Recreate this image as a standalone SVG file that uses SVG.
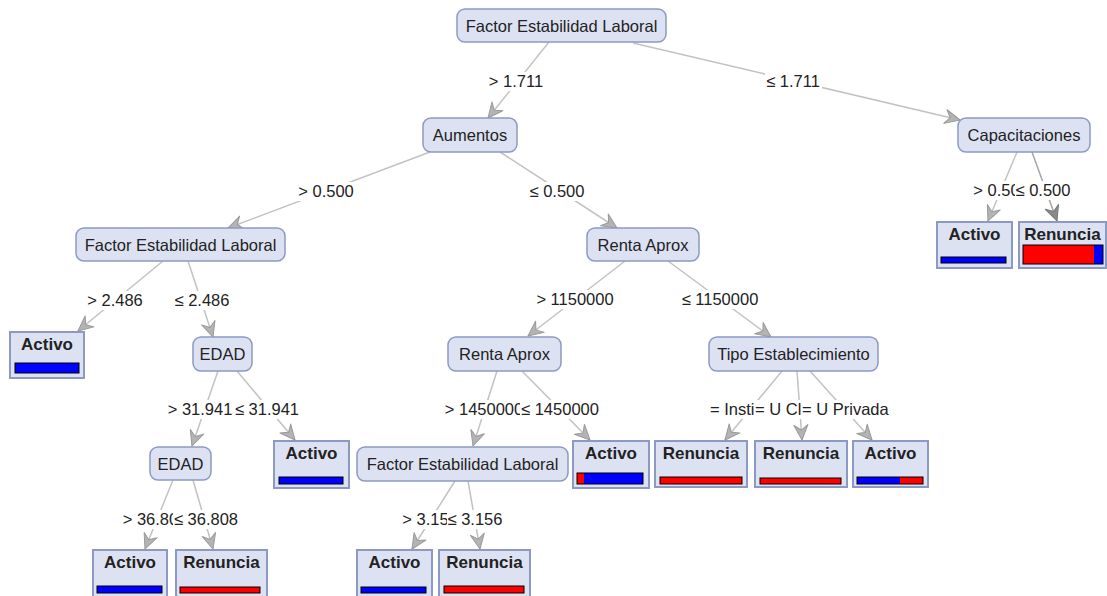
<svg xmlns="http://www.w3.org/2000/svg" width="1107" height="596" viewBox="0 0 1107 596">
  <style>
    text { font-family: "Liberation Sans", Arial, sans-serif; fill: #222; }
    .node rect.box { fill: #dde2f3; stroke: #8c99c2; stroke-width: 1.5; }
    .node text { font-size: 16.5px; text-anchor: middle; }
    .leaf rect.box { fill: #dde2f3; stroke: #8c99c2; stroke-width: 2; }
    .leaf text { font-size: 17px; font-weight: bold; text-anchor: middle; }
    .bar { stroke: #000; stroke-width: 1; }
    .blue { fill: #0000ff; }
    .red { fill: #ff0000; }
    .edge { stroke: #c2c2c2; stroke-width: 1.5; fill: none; marker-end: url(#arrow); }
    .edge.dark { stroke: #a6a6a6; marker-end: url(#arrowDark); }
    .lbl rect { fill: #fff; }
    .lbl text { font-size: 16.5px; text-anchor: middle; }
    .lbl text.s { text-anchor: start; }
  </style>
  <defs>
    <marker id="arrow" markerUnits="userSpaceOnUse" markerWidth="18" markerHeight="16" viewBox="0 0 18 16" refX="16" refY="8" orient="auto">
      <path d="M1,1 L16,8 L1,15 L6,8 Z" fill="#b4b4b4" stroke="#999" stroke-width="1" stroke-linejoin="round"/>
    </marker>
    <marker id="arrowDark" markerUnits="userSpaceOnUse" markerWidth="18" markerHeight="16" viewBox="0 0 18 16" refX="16" refY="8" orient="auto">
      <path d="M1,1 L16,8 L1,15 L6,8 Z" fill="#8a8a8a" stroke="#777" stroke-width="1" stroke-linejoin="round"/>
    </marker>
  </defs>

  <rect width="1107" height="596" fill="#fff"/>

  <!-- connectors -->
  <g id="edges">
    <line class="edge" x1="549" y1="42" x2="488" y2="118"/>
    <line class="edge" x1="633" y1="43" x2="960" y2="120"/>
    <line class="edge" x1="430" y1="152" x2="228" y2="228"/>
    <line class="edge" x1="500" y1="152" x2="617" y2="228"/>
    <line class="edge" x1="1017" y1="152" x2="988" y2="221"/>
    <line class="edge dark" x1="1032" y1="152" x2="1057" y2="221"/>
    <line class="edge" x1="163" y1="261" x2="78" y2="331"/>
    <line class="edge" x1="188" y1="261" x2="213" y2="337"/>
    <line class="edge" x1="218" y1="371" x2="192" y2="446"/>
    <line class="edge" x1="237" y1="371" x2="295" y2="440"/>
    <line class="edge" x1="173" y1="480" x2="145" y2="549"/>
    <line class="edge" x1="193" y1="480" x2="213" y2="549"/>
    <line class="edge" x1="625" y1="261" x2="528" y2="336"/>
    <line class="edge" x1="668" y1="261" x2="771" y2="337"/>
    <line class="edge" x1="497" y1="371" x2="473" y2="446"/>
    <line class="edge" x1="522" y1="371" x2="590" y2="440"/>
    <line class="edge" x1="455" y1="481" x2="412" y2="549"/>
    <line class="edge" x1="468" y1="481" x2="480" y2="549"/>
    <line class="edge" x1="782" y1="371" x2="725" y2="440"/>
    <line class="edge" x1="797" y1="371" x2="802" y2="440"/>
    <line class="edge" x1="810" y1="371" x2="872" y2="440"/>
  </g>

  <!-- edge labels (white backing, later ones overlap earlier ones) -->
  <g id="edge-labels" class="lbl">
    <rect x="488" y="72" width="57" height="19"/><text x="516" y="87">&gt; 1.711</text>
    <rect x="765" y="72" width="57" height="19"/><text x="793" y="87">≤ 1.711</text>
    <rect x="298" y="182" width="57" height="19"/><text x="326" y="197">&gt; 0.500</text>
    <rect x="529" y="182" width="57" height="19"/><text x="557" y="197">≤ 0.500</text>
    <rect x="973" y="181" width="57" height="19"/><text x="1001" y="196">&gt; 0.500</text>
    <rect x="1015" y="181" width="57" height="19"/><text x="1043" y="196">≤ 0.500</text>
    <rect x="87" y="291" width="57" height="19"/><text x="115" y="306">&gt; 2.486</text>
    <rect x="174" y="291" width="57" height="19"/><text x="202" y="306">≤ 2.486</text>
    <rect x="167" y="400" width="66" height="19"/><text x="200" y="415">&gt; 31.941</text>
    <rect x="234" y="400" width="66" height="19"/><text x="267" y="415">≤ 31.941</text>
    <rect x="122" y="510" width="66" height="19"/><text x="155" y="525">&gt; 36.808</text>
    <rect x="173" y="510" width="66" height="19"/><text x="206" y="525">≤ 36.808</text>
    <rect x="535" y="290" width="80" height="19"/><text x="575" y="305">&gt; 1150000</text>
    <rect x="680" y="290" width="80" height="19"/><text x="720" y="305">≤ 1150000</text>
    <rect x="444" y="400" width="80" height="19"/><text x="484" y="415">&gt; 1450000</text>
    <rect x="520" y="400" width="80" height="19"/><text x="560" y="415">≤ 1450000</text>
    <rect x="402" y="510" width="57" height="19"/><text x="430" y="525">&gt; 3.156</text>
    <rect x="447" y="510" width="57" height="19"/><text x="475" y="525">≤ 3.156</text>
    <rect x="709" y="400" width="46" height="19"/><text class="s" x="710" y="415">= Insti</text>
    <rect x="755" y="400" width="47" height="19"/><text class="s" x="755" y="415">= U Cl</text>
    <rect x="801.5" y="400" width="90" height="19"/><text class="s" x="802" y="415">= U Privada</text>
  </g>

  <!-- decision nodes -->
  <g id="n-root" class="node"><rect class="box" x="457" y="9" width="209" height="33" rx="8"/><text x="561.5" y="32">Factor Estabilidad Laboral</text></g>
  <g id="n-aumentos" class="node"><rect class="box" x="423" y="118" width="94" height="34" rx="8"/><text x="470" y="141">Aumentos</text></g>
  <g id="n-capacitaciones" class="node"><rect class="box" x="958" y="118" width="132" height="34" rx="8"/><text x="1024" y="141">Capacitaciones</text></g>
  <g id="n-fel2" class="node"><rect class="box" x="76" y="228" width="209" height="33" rx="8"/><text x="180.5" y="251">Factor Estabilidad Laboral</text></g>
  <g id="n-renta1" class="node"><rect class="box" x="587" y="228" width="112" height="33" rx="8"/><text x="643" y="251">Renta Aprox</text></g>
  <g id="n-edad1" class="node"><rect class="box" x="193" y="337" width="59" height="34" rx="8"/><text x="222.5" y="360">EDAD</text></g>
  <g id="n-renta2" class="node"><rect class="box" x="448" y="337" width="113" height="34" rx="8"/><text x="504.5" y="360">Renta Aprox</text></g>
  <g id="n-tipo" class="node"><rect class="box" x="709" y="337" width="169" height="34" rx="8"/><text x="793.5" y="360">Tipo Establecimiento</text></g>
  <g id="n-edad2" class="node"><rect class="box" x="150" y="447" width="61" height="33" rx="8"/><text x="180.5" y="470">EDAD</text></g>
  <g id="n-fel3" class="node"><rect class="box" x="357" y="447" width="211" height="34" rx="8"/><text x="462.5" y="470">Factor Estabilidad Laboral</text></g>

  <!-- leaves -->
  <g id="leaf-cap-activo" class="leaf"><rect class="box" x="937" y="222" width="75" height="46"/><text x="974.5" y="240">Activo</text>
    <rect class="bar blue" x="941" y="257" width="65" height="6"/></g>
  <g id="leaf-cap-renuncia" class="leaf"><rect class="box" x="1019" y="222" width="87" height="46"/><text x="1062.5" y="240">Renuncia</text>
    <rect class="red" x="1023" y="245" width="71" height="19"/><rect class="blue" x="1094" y="245" width="9" height="19"/><rect class="bar" fill="none" x="1023" y="245" width="80" height="19"/></g>
  <g id="leaf-fel2-activo" class="leaf"><rect class="box" x="10" y="332" width="74" height="46"/><text x="47" y="350">Activo</text>
    <rect class="bar blue" x="15" y="363" width="64" height="10"/></g>
  <g id="leaf-edad1-activo" class="leaf"><rect class="box" x="274" y="441" width="75" height="47"/><text x="311.5" y="459">Activo</text>
    <rect class="bar blue" x="279" y="477" width="64" height="7"/></g>
  <g id="leaf-edad2-activo" class="leaf"><rect class="box" x="93" y="550" width="74" height="52"/><text x="130" y="568">Activo</text>
    <rect class="bar blue" x="97" y="586" width="65" height="7"/></g>
  <g id="leaf-edad2-renuncia" class="leaf"><rect class="box" x="176" y="550" width="91" height="52"/><text x="221.5" y="568">Renuncia</text>
    <rect class="bar red" x="180" y="587" width="80" height="6"/></g>
  <g id="leaf-renta2-activo" class="leaf"><rect class="box" x="573" y="441" width="76" height="47"/><text x="611" y="459">Activo</text>
    <rect class="red" x="577" y="473" width="7" height="11"/><rect class="blue" x="584" y="473" width="59" height="11"/><rect class="bar" fill="none" x="577" y="473" width="66" height="11"/></g>
  <g id="leaf-fel3-activo" class="leaf"><rect class="box" x="357" y="550" width="75" height="52"/><text x="394.5" y="568">Activo</text>
    <rect class="bar blue" x="361" y="587" width="65" height="6"/></g>
  <g id="leaf-fel3-renuncia" class="leaf"><rect class="box" x="439" y="550" width="91" height="52"/><text x="484.5" y="568">Renuncia</text>
    <rect class="bar red" x="444" y="586" width="80" height="7"/></g>
  <g id="leaf-tipo-renuncia1" class="leaf"><rect class="box" x="655" y="441" width="92" height="46"/><text x="701" y="459">Renuncia</text>
    <rect class="bar red" x="660" y="477" width="82" height="7"/></g>
  <g id="leaf-tipo-renuncia2" class="leaf"><rect class="box" x="755" y="441" width="92" height="46"/><text x="801" y="459">Renuncia</text>
    <rect class="bar red" x="760" y="478" width="81" height="6"/></g>
  <g id="leaf-tipo-activo" class="leaf"><rect class="box" x="853" y="441" width="75" height="46"/><text x="890.5" y="459">Activo</text>
    <rect class="blue" x="857" y="477" width="43" height="7"/><rect class="red" x="900" y="477" width="23" height="7"/><rect class="bar" fill="none" x="857" y="477" width="66" height="7"/></g>
</svg>
